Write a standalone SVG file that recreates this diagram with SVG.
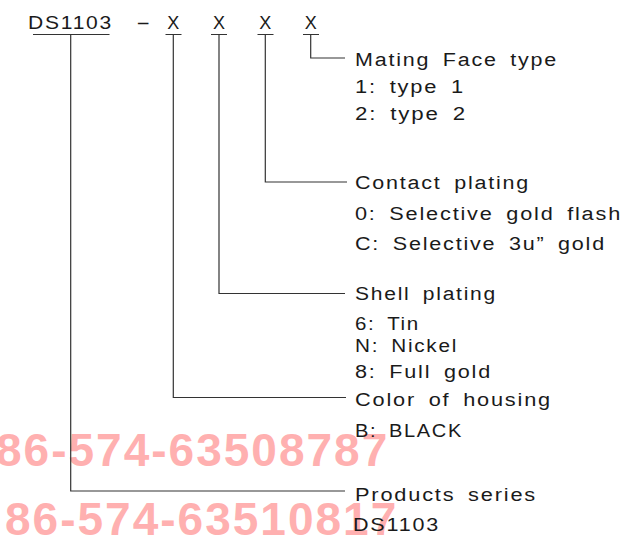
<svg xmlns="http://www.w3.org/2000/svg" width="641" height="540" viewBox="0 0 641 540">
<style>
.t{font-family:"Liberation Sans",Arial,sans-serif;font-size:18px;fill:#1a1a1a;letter-spacing:1.5px;word-spacing:4px}
.wm{font-family:"Liberation Sans",Arial,sans-serif;font-weight:bold;font-size:46px;fill:#ffb0b0;letter-spacing:2px}
.ln{stroke:#333;stroke-width:1.2;fill:none}
</style>
<rect width="641" height="540" fill="#fff"/>
<g id="watermark">
<text class="wm" x="-4" y="466">86-574-63508787</text>
<text class="wm" x="5" y="535">86-574-63510817</text>
</g>
<g id="part-number">
<text class="t" x="28" y="29" textLength="85" lengthAdjust="spacingAndGlyphs">DS1103</text>
<text class="t" transform="translate(136,29) scale(2.4,1)" style="letter-spacing:0">-</text>
<text class="t" x="173.3" y="29" text-anchor="middle" style="letter-spacing:0">X</text>
<text class="t" x="219" y="29" text-anchor="middle" style="letter-spacing:0">X</text>
<text class="t" x="265.3" y="29" text-anchor="middle" style="letter-spacing:0">X</text>
<text class="t" x="310.7" y="29" text-anchor="middle" style="letter-spacing:0">X</text>
</g>
<g id="connectors">
<path class="ln" d="M33 34.5H109.5M165.5 34.5H181.5M211 34.5H227M257.5 34.5H273.5M303 34.5H319"/>
<path class="ln" d="M310.7 34.5V58H345"/>
<path class="ln" d="M265.3 34.5V182H347"/>
<path class="ln" d="M219 34.5V293.5H345"/>
<path class="ln" d="M173.3 34.5V397.5H346"/>
<path class="ln" d="M70.7 34.5V491H345"/>
</g>
<g id="mating-face">
<text class="t" x="355" y="66" textLength="203" lengthAdjust="spacingAndGlyphs">Mating Face type</text>
<text class="t" x="355" y="93" textLength="110" lengthAdjust="spacingAndGlyphs">1: type 1</text>
<text class="t" x="355" y="120" textLength="112" lengthAdjust="spacingAndGlyphs">2: type 2</text>
</g>
<g id="contact-plating">
<text class="t" x="355" y="189" textLength="175" lengthAdjust="spacingAndGlyphs">Contact plating</text>
<text class="t" x="355" y="220" textLength="267" lengthAdjust="spacingAndGlyphs">0: Selective gold flash</text>
<text class="t" x="355" y="250" textLength="251" lengthAdjust="spacingAndGlyphs">C: Selective 3u” gold</text>
</g>
<g id="shell-plating">
<text class="t" x="355" y="300" textLength="142" lengthAdjust="spacingAndGlyphs">Shell plating</text>
<text class="t" x="355" y="330" textLength="65" lengthAdjust="spacingAndGlyphs">6: Tin</text>
<text class="t" x="355" y="352" textLength="103" lengthAdjust="spacingAndGlyphs">N: Nickel</text>
<text class="t" x="355" y="378" textLength="137" lengthAdjust="spacingAndGlyphs">8: Full gold</text>
</g>
<g id="housing-color">
<text class="t" x="355" y="406" textLength="197" lengthAdjust="spacingAndGlyphs">Color of housing</text>
<text class="t" x="355" y="437" textLength="108" lengthAdjust="spacingAndGlyphs">B: BLACK</text>
</g>
<g id="product-series">
<text class="t" x="355" y="501" textLength="182" lengthAdjust="spacingAndGlyphs">Products series</text>
<text class="t" x="353" y="531" textLength="87" lengthAdjust="spacingAndGlyphs">DS1103</text>
</g>
</svg>
